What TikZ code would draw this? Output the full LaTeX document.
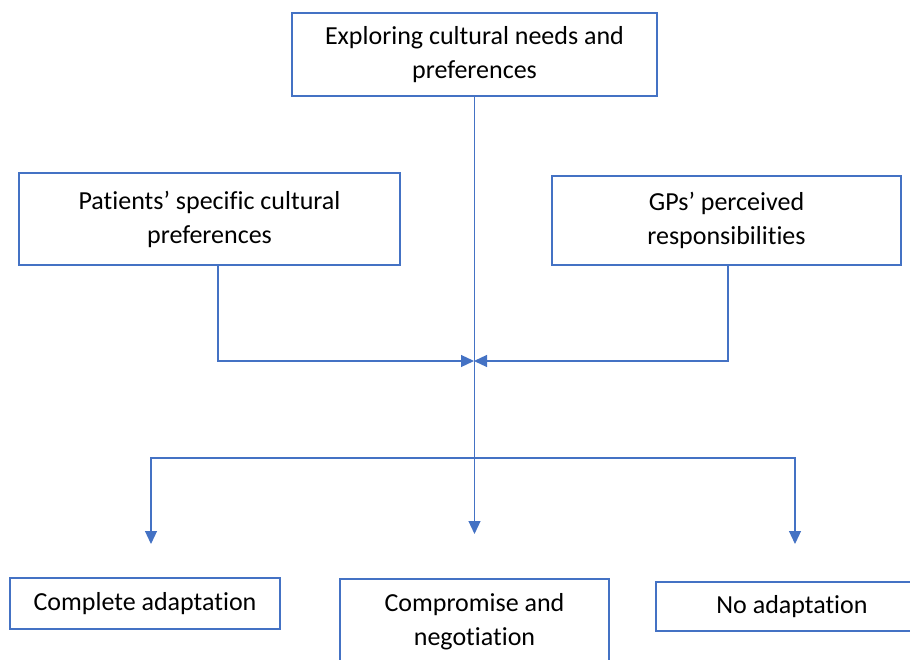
\documentclass[tikz,border=0pt]{standalone}
\usepackage{fontspec}
\setmainfont[Ligatures=NoCommon]{Carlito}
\usetikzlibrary{arrows.meta,positioning}
\definecolor{boxblue}{HTML}{4472C4}
\tikzset{
	box/.style={draw=boxblue, line width=2pt, align=center, inner sep=0pt,
		font=\fontsize{26}{34}\selectfont},
	conn/.style={draw=boxblue, line width=1.2pt},
	arr/.style={conn, -{Triangle[length=13pt,width=12pt]}}
}

\begin{document}
\begin{tikzpicture}[x=1pt,y=-1pt]
		%%%%% START %%%%%
		
		\clip (0,0) rectangle (910,660);
		
		\node[box, minimum width=365pt, minimum height=83pt] (explore) at (474.5, 54.5) {Exploring cultural needs and\\preferences};
		
		\node[box, minimum width=381pt, minimum height=92pt] (patients) at (209.5, 219) {Patients’ specific cultural\\preferences};
		\node[box, minimum width=349pt, minimum height=89pt] (gps) at (726.5, 220.5) {GPs’ perceived\\responsibilities};
		
		\node[box, minimum width=270pt, minimum height=51pt] (complete) at (145, 603.5) {Complete adaptation};
		\node[box, minimum width=269pt, minimum height=86pt] (compromise) at (474.5, 622) {Compromise and\\negotiation};
		\node[box, minimum width=272pt, minimum height=49pt] (noadapt) at (792, 606.5) {No adaptation};
		
		\coordinate (hub) at (474, 361);
		\coordinate (split) at (474, 458);
		
		% main line down
		\draw[arr] (explore.south) -- ([yshift=44pt]compromise.north);
		
		% both sides into the hub
		\draw[arr] ([xshift=8.5pt]patients.south) |- (hub);
		\draw[arr] ([xshift=1.5pt]gps.south) |- (hub);
		
		% split to the outcomes
		\draw[arr] (split) -| ([xshift=6pt,yshift=33pt]complete.north);
		\draw[arr] (split) -| ([xshift=3pt,yshift=37pt]noadapt.north);
		
		%%%%% END %%%%%
	\end{tikzpicture}
\end{document}
